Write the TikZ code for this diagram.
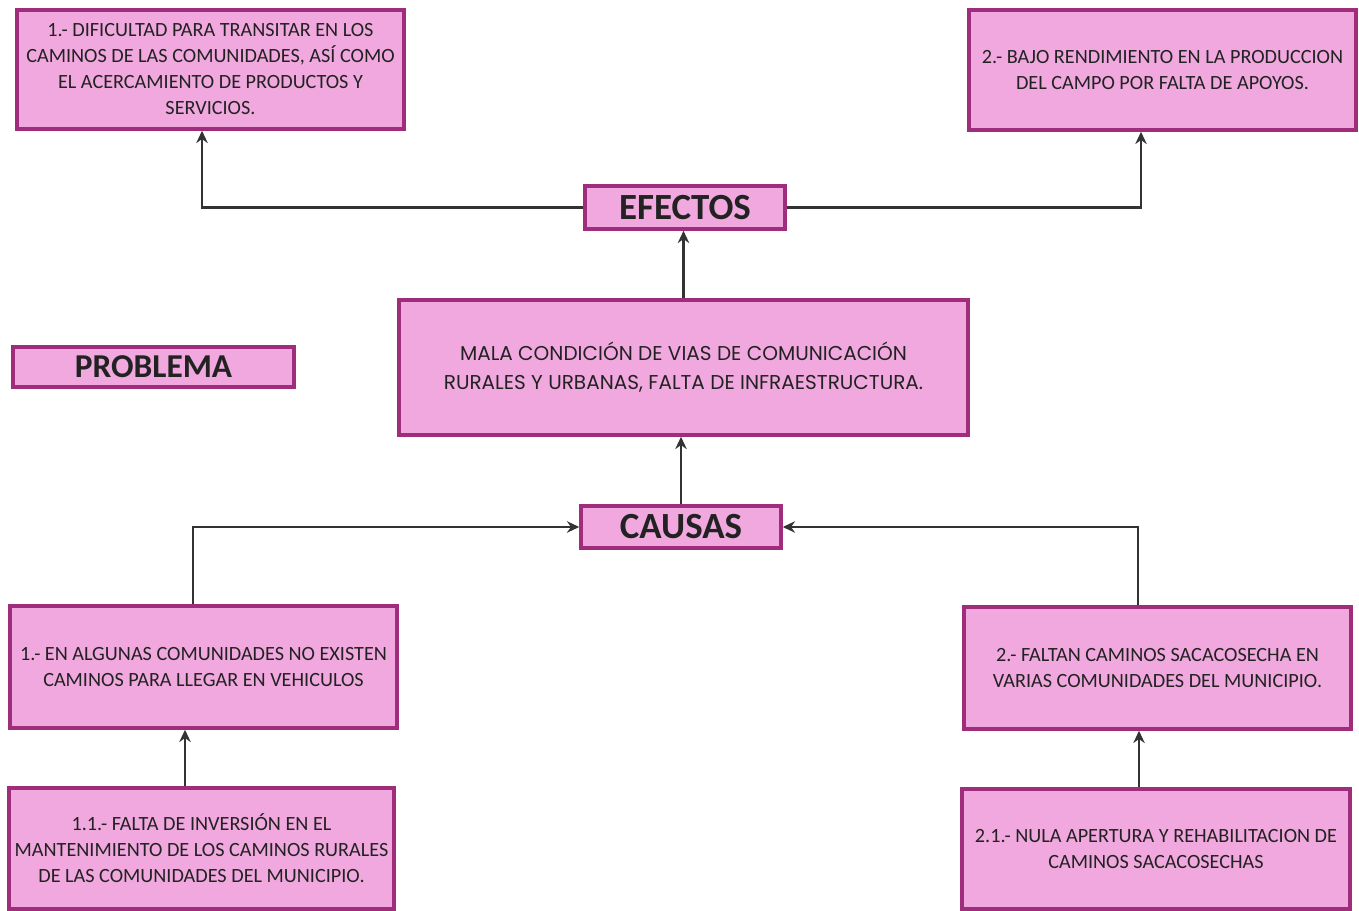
\documentclass[tikz,border=0pt]{standalone}
\usepackage{fontspec}
\setmainfont{Carlito}
\newfontfamily\gothic{Poppins}
\usetikzlibrary{arrows.meta,calc}
\definecolor{boxfill}{HTML}{F0A8DE}
\definecolor{boxline}{HTML}{A02C7C}
\definecolor{lineclr}{HTML}{333333}
\definecolor{txt}{HTML}{222222}
\tikzset{
  box/.style={draw=boxline, line width=2pt, fill=boxfill, align=center, inner sep=2pt,
    text=txt, font=\fontsize{11.5pt}{14.8pt}\selectfont},
  title/.style={draw=boxline, line width=2pt, fill=boxfill, align=center, inner sep=0pt,
    text=txt, font=\fontsize{21pt}{24pt}\selectfont\bfseries},
  arr/.style={draw=lineclr, line width=1.6pt, -{Stealth[length=7pt,width=6.5pt]}}
}
\begin{document}
\begin{tikzpicture}[x=0.02cm,y=-0.02cm]
\useasboundingbox (0,0) rectangle (1359,911);
\node[box, minimum width=7.74cm, minimum height=2.38cm] (e1) at (210.5,69.5)
  {1.- DIFICULTAD PARA TRANSITAR EN LOS\\CAMINOS DE LAS COMUNIDADES, ASÍ COMO\\EL ACERCAMIENTO DE PRODUCTOS Y\\SERVICIOS.};
\node[box, minimum width=7.74cm, minimum height=2.4cm] (e2) at (1162.5,70)
  {2.- BAJO RENDIMIENTO EN LA PRODUCCION\\DEL CAMPO POR FALTA DE APOYOS.};
\node[title, minimum width=4.0cm, minimum height=0.86cm] (efectos) at (685,207.5) {EFECTOS};
\node[box, minimum width=11.38cm, minimum height=2.7cm,
  font=\gothic\fontsize{11.4pt}{16.5pt}\selectfont] (main) at (683.5,367.5)
  {MALA CONDICIÓN DE VIAS DE COMUNICACIÓN\\RURALES Y URBANAS, FALTA DE INFRAESTRUCTURA.};
\node[title, minimum width=5.62cm, minimum height=0.8cm, font=\fontsize{19pt}{22pt}\selectfont\bfseries] (problema) at (153.5,367) {PROBLEMA};
\node[title, minimum width=4.0cm, minimum height=0.84cm] (causas) at (681,527) {CAUSAS};
\node[box, minimum width=7.74cm, minimum height=2.44cm] (c1) at (203.5,667)
  {1.- EN ALGUNAS COMUNIDADES NO EXISTEN\\CAMINOS PARA LLEGAR EN VEHICULOS};
\node[box, minimum width=7.74cm, minimum height=2.44cm] (c2) at (1157.5,668)
  {2.- FALTAN CAMINOS SACACOSECHA EN\\VARIAS COMUNIDADES DEL MUNICIPIO.};
\node[box, minimum width=7.7cm, minimum height=2.42cm] (c11) at (201.5,848.5)
  {1.1.- FALTA DE INVERSIÓN EN EL\\MANTENIMIENTO DE LOS CAMINOS RURALES\\DE LAS COMUNIDADES DEL MUNICIPIO.};
\node[box, minimum width=7.76cm, minimum height=2.4cm] (c21) at (1156,849)
  {2.1.- NULA APERTURA Y REHABILITACION DE\\CAMINOS SACACOSECHAS};
% connectors
\draw[arr] (efectos.west) -| ([xshift=-0.17cm]e1.south);
\draw[arr] (efectos.east) -| ([xshift=-0.43cm]e2.south);
\draw[arr] (main.north) -- (main.north |- efectos.south);
\draw[arr] (causas.north) -- (causas.north |- main.south);
\draw[arr] ([xshift=-0.21cm]c1.north) |- (causas.west);
\draw[arr] ([xshift=-0.39cm]c2.north) |- (causas.east);
\draw[arr] ([xshift=-0.33cm]c11.north) -- ([xshift=-0.33cm]c11.north |- c1.south);
\draw[arr] ([xshift=-0.34cm]c21.north) -- ([xshift=-0.34cm]c21.north |- c2.south);
\end{tikzpicture}
\end{document}
